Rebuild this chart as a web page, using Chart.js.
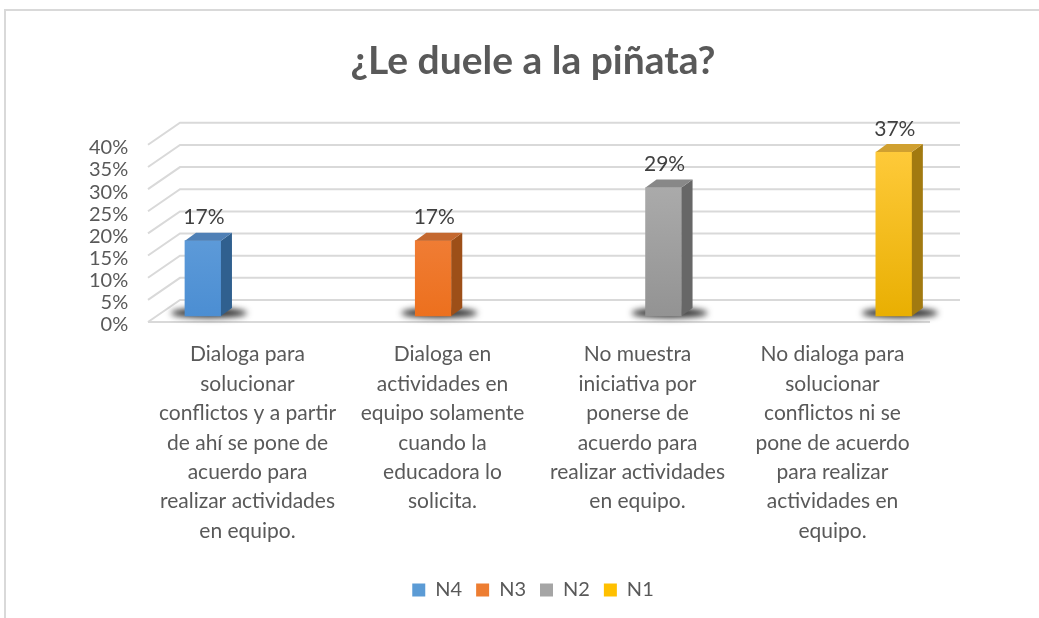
<!DOCTYPE html>
<html>
<head>
<meta charset="utf-8">
<script src="https://cdn.jsdelivr.net/npm/chart.js@4.4.1/dist/chart.umd.min.js"></script>
<style>
html, body { margin: 0; padding: 0; background: #fff; overflow: hidden; }
#frame { position: absolute; left: 4px; top: 9px; width: 1100px; height: 700px; border: 2px solid #d9d9d9; }
#chart { position: absolute; left: 0; top: 0; }
</style>
</head>
<body>
<div id="frame"></div>
<canvas id="chart" width="1039" height="618"></canvas>
<script>
// chart data
var categories = [
    ['Dialoga para', 'solucionar', 'conflictos y a partir', 'de ahí se pone de', 'acuerdo para', 'realizar actividades', 'en equipo.'],
    ['Dialoga en', 'actividades en', 'equipo solamente', 'cuando la', 'educadora lo', 'solicita.'],
    ['No muestra', 'iniciativa por', 'ponerse de', 'acuerdo para', 'realizar actividades', 'en equipo.'],
    ['No dialoga para', 'solucionar', 'conflictos ni se', 'pone de acuerdo', 'para realizar', 'actividades en', 'equipo.']
];
var seriesNames = ['N4', 'N3', 'N2', 'N1'];
var seriesValues = [17, 17, 29, 37];
var titleText = '¿Le duele a la piñata?';

// colours (flat, front top/bottom, side, top face)
var flatColors = ['#5b9bd5', '#ed7d31', '#a5a5a5', '#ffc000'];
var frontTop = ['#72a9e0', '#f48c50', '#b2b2b2', '#ffcb3c'];
var frontBottom = ['#4a8dd2', '#ec6f1c', '#929292', '#e8ae00'];
var sideColors = ['#30608f', '#9d4f18', '#676767', '#a27a10'];
var topColors = ['#4f80b6', '#c4682f', '#888888', '#d0a030'];

var depthX = 11, depthY = 8;

function frontColor(i) {
    return function(ctx) {
        var area = ctx.chart.chartArea;
        if (ctx.type !== 'data' || !area) return flatColors[i];
        var g = ctx.chart.ctx.createLinearGradient(0, area.top, 0, area.bottom);
        g.addColorStop(0, frontTop[i]);
        g.addColorStop(1, frontBottom[i]);
        return g;
    };
}

// back wall grid + floor, done by hand to fake the 3D look
var grid3d = {
    id: 'grid3d',
    beforeDatasetsDraw: function(chart) {
        var c = chart.ctx, y = chart.scales.y, area = chart.chartArea;
        c.save();
        c.strokeStyle = '#d9d9d9';
        c.lineWidth = 2;
        y.ticks.forEach(function(t) {
            var py = y.getPixelForValue(t.value);
            c.beginPath();
            c.moveTo(area.left - 2, py);
            c.lineTo(area.left + 30, py - 22);
            c.lineTo(area.right + 30, py - 22);
            c.stroke();
        });
        c.beginPath();
        c.moveTo(area.left - 2, area.bottom);
        c.lineTo(area.right, area.bottom);
        c.stroke();
        c.restore();
    }
};

var bars3d = {
    id: 'bars3d',
    beforeDatasetsDraw: function(chart) {
        var c = chart.ctx;
        c.save();
        c.filter = 'blur(3px)';
        c.fillStyle = 'rgba(25,25,25,0.9)';
        chart.data.datasets.forEach(function(ds, i) {
            var el = chart.getDatasetMeta(i).data[0];
            c.beginPath();
            c.ellipse(el.x + 6, el.base - 3, 38, 5, 0, 0, Math.PI * 2);
            c.fill();
        });
        c.restore();
    },
    afterDatasetsDraw: function(chart) {
        var c = chart.ctx;
        c.save();
        chart.data.datasets.forEach(function(ds, i) {
            var el = chart.getDatasetMeta(i).data[0];
            var l = el.x - el.width / 2, r = el.x + el.width / 2;
            // side
            c.fillStyle = sideColors[i];
            c.beginPath();
            c.moveTo(r, el.y);
            c.lineTo(r + depthX, el.y - depthY);
            c.lineTo(r + depthX, el.base - depthY);
            c.lineTo(r, el.base);
            c.closePath();
            c.fill();
            // top
            c.fillStyle = topColors[i];
            c.beginPath();
            c.moveTo(l, el.y);
            c.lineTo(l + depthX, el.y - depthY);
            c.lineTo(r + depthX, el.y - depthY);
            c.lineTo(r, el.y);
            c.closePath();
            c.fill();
            // value label
            c.fillStyle = '#404040';
            c.font = '21px Lato';
            c.textAlign = 'center';
            c.textBaseline = 'middle';
            c.fillText(ds.data[0].y + '%', el.x + 1, el.y - 23);
        });
        c.restore();
    }
};

var chart = new Chart(document.getElementById('chart'), {
    type: 'bar',
    data: {
        labels: categories,
        datasets: seriesNames.map(function(name, i) {
            return {
                label: name,
                data: [{x: i, y: seriesValues[i]}],
                xAxisID: 'xb',
                yAxisID: 'yb',
                backgroundColor: frontColor(i),
                borderWidth: 0,
                barThickness: 36,
                grouped: false
            };
        })
    },
    options: {
        responsive: false,
        animation: false,
        layout: {padding: {left: 136, right: 109, top: 0, bottom: 8}},
        plugins: {
            title: {
                display: true,
                text: titleText,
                color: '#595959',
                font: {family: 'Lato', size: 39, weight: 'bold'},
                padding: {top: 38, bottom: 60}
            },
            legend: {
                position: 'bottom',
                labels: {
                    color: '#595959',
                    font: {family: 'Lato', size: 20},
                    boxWidth: 13,
                    boxHeight: 13,
                    padding: 14,
                    generateLabels: function(chart) {
                        return seriesNames.map(function(name, i) {
                            return {text: name, fillStyle: flatColors[i], strokeStyle: flatColors[i], lineWidth: 0, datasetIndex: i, fontColor: '#595959'};
                        });
                    }
                }
            },
            tooltip: {enabled: false}
        },
        scales: {
            x: {
                type: 'category',
                position: 'bottom',
                grid: {display: false},
                border: {display: false},
                ticks: {autoSkip: false, maxRotation: 0, color: '#595959', font: {family: 'Lato', size: 21, lineHeight: 1.4}, padding: 10},
                afterFit: function(s) { s.height = 244; }
            },
            y: {
                min: 0,
                max: 40,
                position: 'left',
                grid: {display: false},
                border: {display: false},
                // mirror + far keeps labels right-aligned and unclipped left of the plot
                ticks: {stepSize: 5, mirror: true, crossAlign: 'far', padding: -61, labelOffset: 3,
                    color: '#595959', font: {family: 'Lato', size: 20, lineHeight: 0.9},
                    callback: function(v) { return v + '%'; }},
                afterFit: function(s) { s.width = 14; }
            },
            // bars sit a bit forward of the back wall; these hidden axes place them
            xb: {type: 'linear', display: false, offset: false, min: -0.23, max: 3.157},
            yb: {type: 'linear', display: false, min: -1.36, max: 38.64}
        }
    },
    plugins: [grid3d, bars3d]
});
</script>
</body>
</html>
